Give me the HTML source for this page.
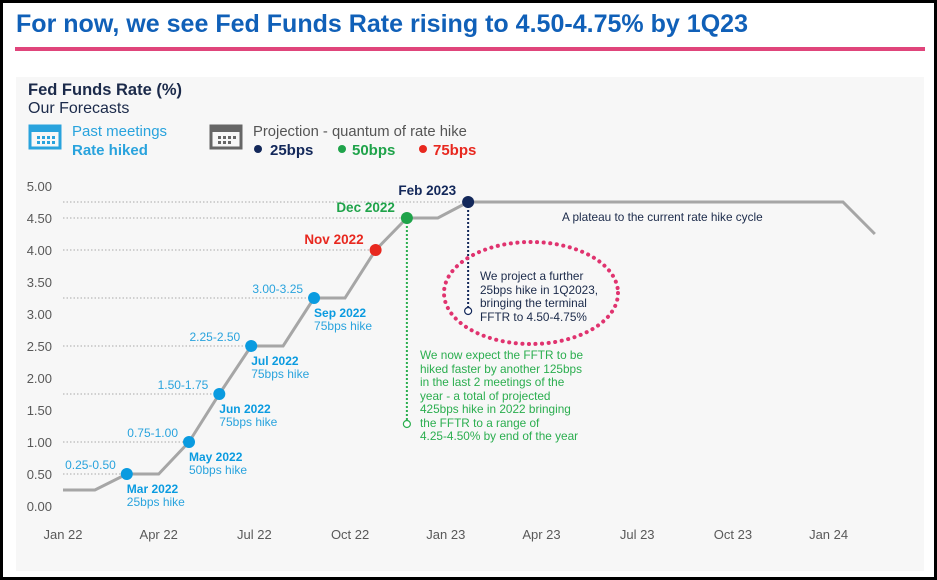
<!DOCTYPE html>
<html><head><meta charset="utf-8"><style>
body{margin:0;width:937px;height:580px;background:#fff;overflow:hidden;font-family:"Liberation Sans",sans-serif}
#frame{position:absolute;left:0;top:0;width:931px;height:574px;border:3px solid #000}
</style></head><body>
<div id="frame"></div>
<svg width="937" height="580" style="position:absolute;left:0;top:0">
<text x="16" y="32" font-size="25" font-weight="bold" fill="#1060b8" textLength="732" lengthAdjust="spacingAndGlyphs">For now, we see Fed Funds Rate rising to 4.50-4.75% by 1Q23</text>
<rect x="15" y="47" width="910" height="4" fill="#e0457b"/>
<rect x="16" y="77" width="908" height="494" fill="#f7f7f7"/>
<text x="28" y="95" font-size="16.5" font-weight="bold" fill="#1b2a4a">Fed Funds Rate (%)</text>
<text x="28" y="113" font-size="16" fill="#1b2a4a">Our Forecasts</text>
<g><rect x="30" y="126" width="30" height="22" fill="none" stroke="#29a3dd" stroke-width="3"/><rect x="30" y="126" width="30" height="6" fill="#29a3dd"/><g fill="#29a3dd"><rect x="37" y="136" width="3" height="3"/><rect x="42" y="136" width="3" height="3"/><rect x="47" y="136" width="3" height="3"/><rect x="52" y="136" width="3" height="3"/><rect x="37" y="141" width="3" height="3"/><rect x="42" y="141" width="3" height="3"/><rect x="47" y="141" width="3" height="3"/><rect x="52" y="141" width="3" height="3"/></g></g>
<text x="72" y="136" font-size="15" fill="#29a3dd">Past meetings</text>
<text x="72" y="155" font-size="15" font-weight="bold" fill="#29a3dd">Rate hiked</text>
<g><rect x="211" y="126" width="30" height="22" fill="none" stroke="#666" stroke-width="3"/><rect x="211" y="126" width="30" height="6" fill="#666"/><g fill="#666"><rect x="218" y="136" width="3" height="3"/><rect x="223" y="136" width="3" height="3"/><rect x="228" y="136" width="3" height="3"/><rect x="233" y="136" width="3" height="3"/><rect x="218" y="141" width="3" height="3"/><rect x="223" y="141" width="3" height="3"/><rect x="228" y="141" width="3" height="3"/></g></g>
<text x="253" y="136" font-size="14.8" fill="#555">Projection - quantum of rate hike</text>
<circle cx="258" cy="149" r="4" fill="#13285a"/>
<text x="270" y="155" font-size="15" font-weight="bold" fill="#13285a">25bps</text>
<circle cx="342" cy="149" r="4" fill="#1fa34a"/>
<text x="352" y="155" font-size="15" font-weight="bold" fill="#1fa34a">50bps</text>
<circle cx="423" cy="149" r="4" fill="#e8281f"/>
<text x="433" y="155" font-size="15" font-weight="bold" fill="#e8281f">75bps</text>
<g id="plot"></g>
<ellipse cx="531" cy="293" rx="87" ry="51" fill="none" stroke="#e0336f" stroke-width="4" stroke-dasharray="0.1 6.5" stroke-linecap="round"/>
<text font-size="11.8" fill="#1b2a4a"><tspan x="480" y="280">We project a further</tspan><tspan x="480" y="294">25bps hike in 1Q2023,</tspan><tspan x="480" y="307">bringing the terminal</tspan><tspan x="480" y="321">FFTR to 4.50-4.75%</tspan></text>
<text font-size="11.8" fill="#2bae4f"><tspan x="420" y="359">We now expect the FFTR to be</tspan><tspan x="420" y="373">hiked faster by another 125bps</tspan><tspan x="420" y="386">in the last 2 meetings of the</tspan><tspan x="420" y="400">year - a total of projected</tspan><tspan x="420" y="413">425bps hike in 2022 bringing</tspan><tspan x="420" y="427">the FFTR to a range of</tspan><tspan x="420" y="440">4.25-4.50% by end of the year</tspan></text>
<text x="562" y="221" font-size="11.8" fill="#1b2a4a">A plateau to the current rate hike cycle</text>
</svg>
<script>
const lineMonths=[0,1,2,3,3.95,4.9,5.9,6.9,7.87,8.84,9.8,10.78,11.75,12.7,24.45,25.45];
const lineValues=[0.25,0.25,0.5,0.5,1.0,1.75,2.5,2.5,3.25,3.25,4.0,4.5,4.5,4.75,4.75,4.25];
const yTicks=[0,0.5,1,1.5,2,2.5,3,3.5,4,4.5,5];
const xTickMonths=[0,3,6,9,12,15,18,21,24];
const xTickLabels=["Jan 22","Apr 22","Jul 22","Oct 22","Jan 23","Apr 23","Jul 23","Oct 23","Jan 24"];
const markerMonths=[2,3.95,4.9,5.9,7.87,9.8,10.78,12.7];
const markerValues=[0.5,1.0,1.75,2.5,3.25,4.0,4.5,4.75];
const markerKinds=["past","past","past","past","past","75","50","25"];
const markerTitles=["Mar 2022","May 2022","Jun 2022","Jul 2022","Sep 2022","Nov 2022","Dec 2022","Feb 2023"];
const markerSubs=["25bps hike","50bps hike","75bps hike","75bps hike","75bps hike","","",""];
const rangeLabels=["0.25-0.50","0.75-1.00","1.50-1.75","2.25-2.50","3.00-3.25","","",""];
const X=m=>63+m*31.9;
const Y=v=>506-v*64;
const NS="http://www.w3.org/2000/svg";
const g=document.getElementById('plot');
function mk(t,a,txt){const e=document.createElementNS(NS,t);for(const k in a)e.setAttribute(k,a[k]);if(txt!==undefined)e.textContent=txt;g.appendChild(e);return e;}
const col={past:"#0a9be0","75":"#e8281f","50":"#1fa34a","25":"#13285a"};
yTicks.forEach(v=>{const t=mk('text',{x:52,y:Y(v)+5,'font-size':13,fill:'#595959','text-anchor':'end'},v.toFixed(2));

});
xTickMonths.forEach((m,i)=>{const t=mk('text',{x:X(m),y:539,'font-size':13,fill:'#595959','text-anchor':'middle'},xTickLabels[i]);

});
markerMonths.forEach((m,i)=>{const l=mk('line',{x1:63,y1:Y(markerValues[i]),x2:X(m),y2:Y(markerValues[i]),stroke:'#aaa','stroke-width':1,'stroke-dasharray':'1.5 2'});

});
const dl1=mk('line',{x1:X(10.78),y1:Y(4.5),x2:X(10.78),y2:424,stroke:'#2bae4f','stroke-width':2,'stroke-dasharray':'2 2'});


const dc1=mk('circle',{cx:X(10.78),cy:424,r:3.5,fill:'#fff',stroke:'#2bae4f','stroke-width':1.2});


const dl2=mk('line',{x1:X(12.7),y1:Y(4.75),x2:X(12.7),y2:311,stroke:'#13285a','stroke-width':2,'stroke-dasharray':'2 2'});


const dc2=mk('circle',{cx:X(12.7),cy:311,r:3.5,fill:'#fff',stroke:'#13285a','stroke-width':1.2});


const pl=mk('polyline',{points:lineMonths.map((m,i)=>X(m)+','+Y(lineValues[i])).join(' '),fill:'none',stroke:'#a6a6a6','stroke-width':3});


markerMonths.forEach((m,i)=>{const x=X(m),y=Y(markerValues[i]),k=markerKinds[i],c=col[k];
const p=mk('circle',{cx:x,cy:y,r:6,fill:c});


if(k==='past'){
const a=mk('text',{x:x,y:y+19,'font-size':12,'font-weight':'bold',fill:c},markerTitles[i]);


const b=mk('text',{x:x,y:y+32,'font-size':12,fill:'#29a3dd'},markerSubs[i]);


const r=mk('text',{x:x-11,y:y-5,'font-size':12,fill:'#29a3dd','text-anchor':'end'},rangeLabels[i]);


}else{
const a=mk('text',{x:x-12,y:y-6,'font-size':13.5,'font-weight':'bold',fill:c,'text-anchor':'end'},markerTitles[i]);
if(k==='25'){a.setAttribute('y',y-7);}


}});
</script>
</body></html>
